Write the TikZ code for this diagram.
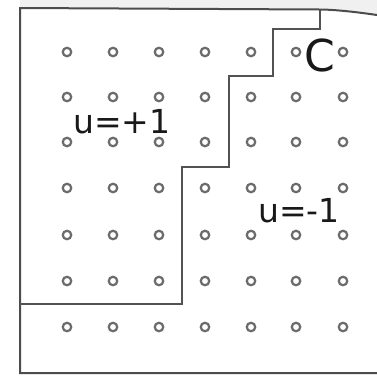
\documentclass[tikz,border=0pt]{standalone}
\usepackage{fontspec}
\setmainfont{DejaVu Sans}
\begin{document}
\begin{tikzpicture}[x=1pt,y=-1pt,
  frameline/.style={draw=black!70,line width=2pt},
  wall/.style={draw=black!68,line width=2pt,line join=miter},
  site/.style={circle,draw=black!58,line width=2.2pt,minimum size=8.5pt,inner sep=0pt},
  lbl/.style={inner sep=0pt,text=black!90}]
\useasboundingbox (0,0) rectangle (377,376);
\fill[white] (0,0) rectangle (377,376);
\fill[black!6] (20,0) -- (377,0) -- (377,15) .. controls (350,11) and (330,9.5) .. (320,9.5) -- (20,8) -- cycle;
% frame
\coordinate (tl) at (20,8);
\coordinate (tm) at (320,9.5);
\coordinate (tr) at (377,15);
\coordinate (bl) at (20,373);
\coordinate (br) at (377,373);
\draw[frameline] (tr) .. controls (350,11) and (330,9.5) .. (tm) -- (tl) -- (bl) -- (br);
% staircase boundary
\coordinate (s0) at (20,304);
\coordinate (s1) at (182,304);
\coordinate (s2) at (182,167);
\coordinate (s3) at (229,167);
\coordinate (s4) at (229,76);
\coordinate (s5) at (273,76);
\coordinate (s6) at (273,29);
\coordinate (s7) at (320,29);
\draw[wall] (s0) -- (s1) -- (s2) -- (s3) -- (s4) -- (s5) -- (s6) -- (s7) -- (tm);
% lattice sites
\foreach \c [count=\i] in {67,113,159,205,251,296,343}{
  \foreach \r [count=\j] in {52,97,142,188,235,281,327}{
    \node[site] (p\i\j) at (\c,\r) {};
  }
}
% labels
\node[lbl,font=\fontsize{33}{33}\selectfont] (up) at (122,122) {u=+1};
\node[lbl,font=\fontsize{33}{33}\selectfont] (um) at (299,211) {u=-1};
\node[lbl,font=\fontsize{44}{44}\selectfont] (cc) at (320,55) {C};
\end{tikzpicture}
\end{document}
